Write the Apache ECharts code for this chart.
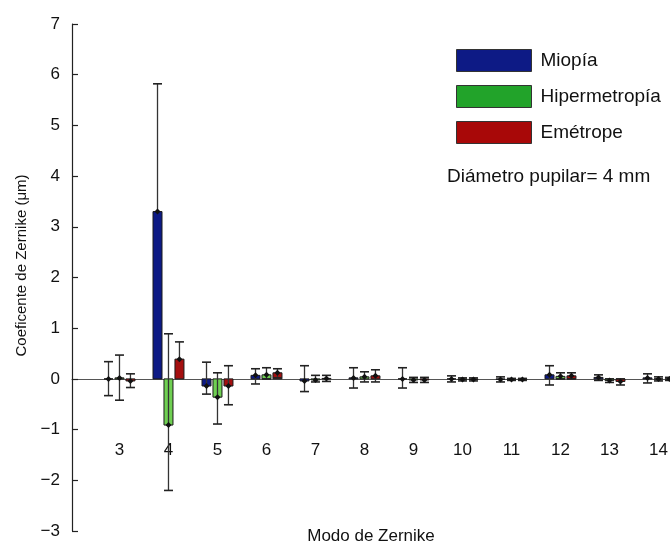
<!DOCTYPE html>
<html>
<head>
<meta charset="utf-8">
<script src="https://cdn.jsdelivr.net/npm/echarts@6/dist/echarts.min.js"></script>
<style>html,body{margin:0;padding:0;background:#fff}#c{width:670px;height:547px}</style>
</head>
<body>
<div id="c"></div>
<script>
const categories = [3, 4, 5, 6, 7, 8, 9, 10, 11, 12, 13, 14];
const yTicks = [-3, -2, -1, 0, 1, 2, 3, 4, 5, 6, 7];

const miopia     = [0.00, 3.30, -0.14, 0.07, -0.04, 0.02, 0.00, 0.00, -0.01, 0.08, 0.03, 0.02];
const miopiaLow  = [-0.33, 3.30, -0.30, -0.10, -0.25, -0.18, -0.18, -0.06, -0.06, -0.12, -0.03, -0.08];
const miopiaHigh = [0.34, 5.82, 0.33, 0.20, 0.26, 0.22, 0.22, 0.06, 0.04, 0.26, 0.08, 0.10];

const hiper      = [0.02, -0.91, -0.36, 0.08, -0.02, 0.04, -0.02, -0.01, -0.01, 0.05, -0.03, 0.00];
const hiperLow   = [-0.42, -2.20, -0.89, 0.00, -0.06, -0.06, -0.07, -0.04, -0.03, 0.00, -0.07, -0.04];
const hiperHigh  = [0.47, 0.89, 0.12, 0.22, 0.07, 0.14, 0.03, 0.02, 0.01, 0.12, 0.00, 0.04];

const emet       = [-0.04, 0.39, -0.14, 0.12, 0.01, 0.06, -0.02, -0.01, -0.01, 0.06, -0.05, 0.00];
const emetLow    = [-0.17, 0.39, -0.51, 0.02, -0.05, -0.06, -0.07, -0.04, -0.03, 0.00, -0.12, -0.03];
const emetHigh   = [0.10, 0.73, 0.26, 0.20, 0.07, 0.18, 0.03, 0.02, 0.01, 0.12, 0.00, 0.03];

const FONT = '"Liberation Sans", Arial, sans-serif';

function build(vals, lo, hi) {
  return categories.map((c, i) => [c, vals[i], lo[i], hi[i]]);
}

function makeRender(offset, fill) {
  return function (params, api) {
    const x = api.value(0) + offset;
    const v = api.value(1), lo = api.value(2), hi = api.value(3);
    const c0 = api.coord([x, 0]);
    const cv = api.coord([x, v]);
    const cl = api.coord([x, lo]);
    const ch = api.coord([x, hi]);
    const hw = 4.5;
    const cap = 4.5;
    const children = [];
    const top = Math.min(c0[1], cv[1]);
    const h = Math.abs(c0[1] - cv[1]);
    children.push({
      type: 'rect',
      shape: { x: c0[0] - hw, y: top, width: hw * 2, height: h },
      style: { fill: fill, stroke: '#1a1a1a', lineWidth: 1 }
    });
    children.push({
      type: 'line',
      shape: { x1: cl[0], y1: cl[1], x2: ch[0], y2: ch[1] },
      style: { stroke: '#333', lineWidth: 1.3 }
    });
    if (Math.abs(ch[1] - cv[1]) > 0.5) {
      children.push({
        type: 'line',
        shape: { x1: ch[0] - cap, y1: ch[1], x2: ch[0] + cap, y2: ch[1] },
        style: { stroke: '#222', lineWidth: 1.6 }
      });
    }
    if (Math.abs(cl[1] - cv[1]) > 0.5) {
      children.push({
        type: 'line',
        shape: { x1: cl[0] - cap, y1: cl[1], x2: cl[0] + cap, y2: cl[1] },
        style: { stroke: '#222', lineWidth: 1.6 }
      });
    }
    children.push({
      type: 'polygon',
      shape: { points: [[cv[0], cv[1] - 3], [cv[0] + 3, cv[1]], [cv[0], cv[1] + 3], [cv[0] - 3, cv[1]]] },
      style: { fill: '#111' }
    });
    return { type: 'group', children: children };
  };
}

const seriesDefs = [
  { name: 'Miopía', data: build(miopia, miopiaLow, miopiaHigh), offset: -0.224, color: '#0d1a85', legendColor: '#0d1a85' },
  { name: 'Hipermetropía', data: build(hiper, hiperLow, hiperHigh), offset: 0, color: '#6fcf52', legendColor: '#22a32a' },
  { name: 'Emétrope', data: build(emet, emetLow, emetHigh), offset: 0.224, color: '#a40f0f', legendColor: '#a80808' }
];

const chart = echarts.init(document.getElementById('c'));
chart.setOption({
  animation: false,
  backgroundColor: '#fff',
  title: {
    text: 'Diámetro pupilar= 4 mm',
    left: 447, top: 167,
    padding: 0,
    textStyle: { fontFamily: FONT, fontSize: 19, fontWeight: 'normal', color: '#111' }
  },
  legend: {
    orient: 'vertical',
    left: 456, top: 49,
    padding: 0,
    itemWidth: 75, itemHeight: 22, itemGap: 13,
    icon: 'rect',
    itemStyle: { borderColor: '#333', borderWidth: 1 },
    textStyle: { fontFamily: FONT, fontSize: 19, color: '#111', padding: [0, 0, 0, 4] },
    data: seriesDefs.map(s => ({ name: s.name, itemStyle: { color: s.legendColor } }))
  },
  grid: { left: 72, right: 0, top: 24, bottom: 16, outerBoundsMode: 'none', containLabel: false },
  xAxis: {
    type: 'value',
    min: 2.031, max: 14.235,
    offset: -152.1,
    name: 'Modo de Zernike',
    nameLocation: 'middle',
    nameGap: 149,
    nameTextStyle: { fontFamily: FONT, fontSize: 17, color: '#111' },
    axisLine: { onZero: false, lineStyle: { color: '#555', width: 1.2 } },
    axisTick: { show: false },
    splitLine: { show: false },
    axisLabel: {
      customValues: categories,
      margin: 63,
      fontFamily: FONT, fontSize: 17, color: '#111'
    }
  },
  yAxis: {
    type: 'value',
    min: -3, max: 7, interval: 1,
    name: 'Coeficente de Zernike (μm)',
    nameLocation: 'middle',
    nameGap: 40,
    nameTextStyle: { fontFamily: FONT, fontSize: 15, color: '#111', padding: [0, 0, 0, 24] },
    axisLine: { show: true, lineStyle: { color: '#222', width: 1.2 } },
    axisTick: { show: true, inside: true, length: 6, lineStyle: { color: '#222', width: 1.2 } },
    splitLine: { show: false },
    axisLabel: {
      margin: 12,
      fontFamily: FONT, fontSize: 17, color: '#111',
      formatter: v => (v < 0 ? '\u2212' + Math.abs(v) : String(v))
    }
  },
  series: seriesDefs.map(s => ({
    name: s.name,
    type: 'custom',
    renderItem: makeRender(s.offset, s.color),
    itemStyle: { color: s.legendColor },
    encode: { x: 0, y: 1 },
    data: s.data,
    z: 3
  }))
});
</script>
</body>
</html>
